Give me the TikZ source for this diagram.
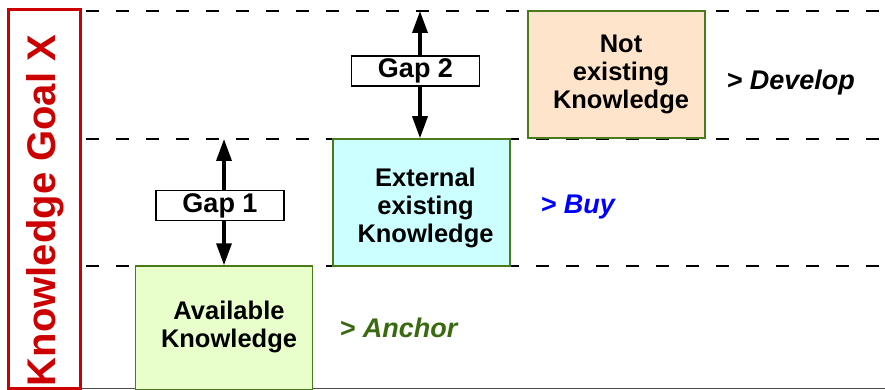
\documentclass[tikz,border=0pt]{standalone}
\usepackage{fontspec}
\setmainfont{Liberation Sans}
\usetikzlibrary{arrows.meta}
\definecolor{kred}{HTML}{CC0000}
\definecolor{kgreen}{HTML}{4A7A1A}
\definecolor{anchorgreen}{HTML}{3A6A10}
\definecolor{fillgreen}{HTML}{E8FFCC}
\definecolor{fillcyan}{HTML}{CCFFFF}
\definecolor{fillpeach}{HTML}{FFE4CC}
\newcommand{\ktext}[3]{\raisebox{#2}[\height][\depth]{\hspace*{#1}\begin{tabular}{@{}c@{}}#3\end{tabular}}}
\tikzset{
  level/.style={draw=black, line width=1.3pt, dash pattern=on 13pt off 17pt},
  kbox/.style={draw=kgreen, line width=1.5pt, minimum width=177pt, minimum height=127pt,
    align=center, font=\fontsize{25.5}{28}\selectfont\bfseries, inner sep=0pt},
  gapbox/.style={draw=black, fill=white, line width=1.3pt, minimum width=128pt, minimum height=30pt,
    inner sep=0pt, font=\fontsize{27}{28}\selectfont\bfseries},
  gaparrow/.style={line width=3.5pt, -{Triangle[length=22pt,width=15pt]}},
  action/.style={anchor=west, font=\fontsize{27}{28}\selectfont\bfseries\itshape},
}
\begin{document}
\begin{tikzpicture}[x=1pt,y=-1pt]
\useasboundingbox (0,0) rectangle (885,390);
% levels
\draw[level] (86,11) -- (885,11);
\draw[level] (86,139) -- (885,139);
\draw[level] (86,266) -- (885,266);
\draw[line width=1.2pt, black!70] (80,388.5) -- (885,388.5);
% goal box
\draw[draw=kred, line width=3pt] (8,10) rectangle (80,388);
\node[font=\fontsize{40}{40}\selectfont\bfseries, text=kred, rotate=90, inner sep=0pt] (goal) at (45,210.5) {Knowledge Goal X};
% knowledge boxes
\node[kbox, fill=fillgreen, minimum height=124pt] (avail) at (224,328) {\ktext{10pt}{0pt}{Available\\Knowledge}};
\node[kbox, fill=fillcyan] (ext) at (421.5,202.5) {\ktext{8pt}{-6pt}{External\\existing\\Knowledge}};
\node[kbox, fill=fillpeach] (notex) at (616.5,74.5) {\ktext{9pt}{0pt}{Not\\existing\\Knowledge}};
% gaps
\coordinate (top1) at (224,139);
\coordinate (top2) at (420,11);
\node[gapbox] (gap1) at (220,205.5) {Gap 1};
\node[gapbox] (gap2) at (415.5,71) {Gap 2};
\draw[gaparrow] (gap1.north -| top1) -- (top1);
\draw[gaparrow] (gap1.south -| top1) -- (avail.north -| top1);
\draw[gaparrow] (gap2.north -| top2) -- (top2);
\draw[gaparrow] (gap2.south -| top2) -- (ext.north -| top2);
% actions
\node[action, text=anchorgreen] (anchor) at (336,328) {> Anchor};
\node[action, text=blue] (buy) at (537,207) {> Buy};
\node[action, text=black] (develop) at (723,83) {> Develop};
\end{tikzpicture}
\end{document}
